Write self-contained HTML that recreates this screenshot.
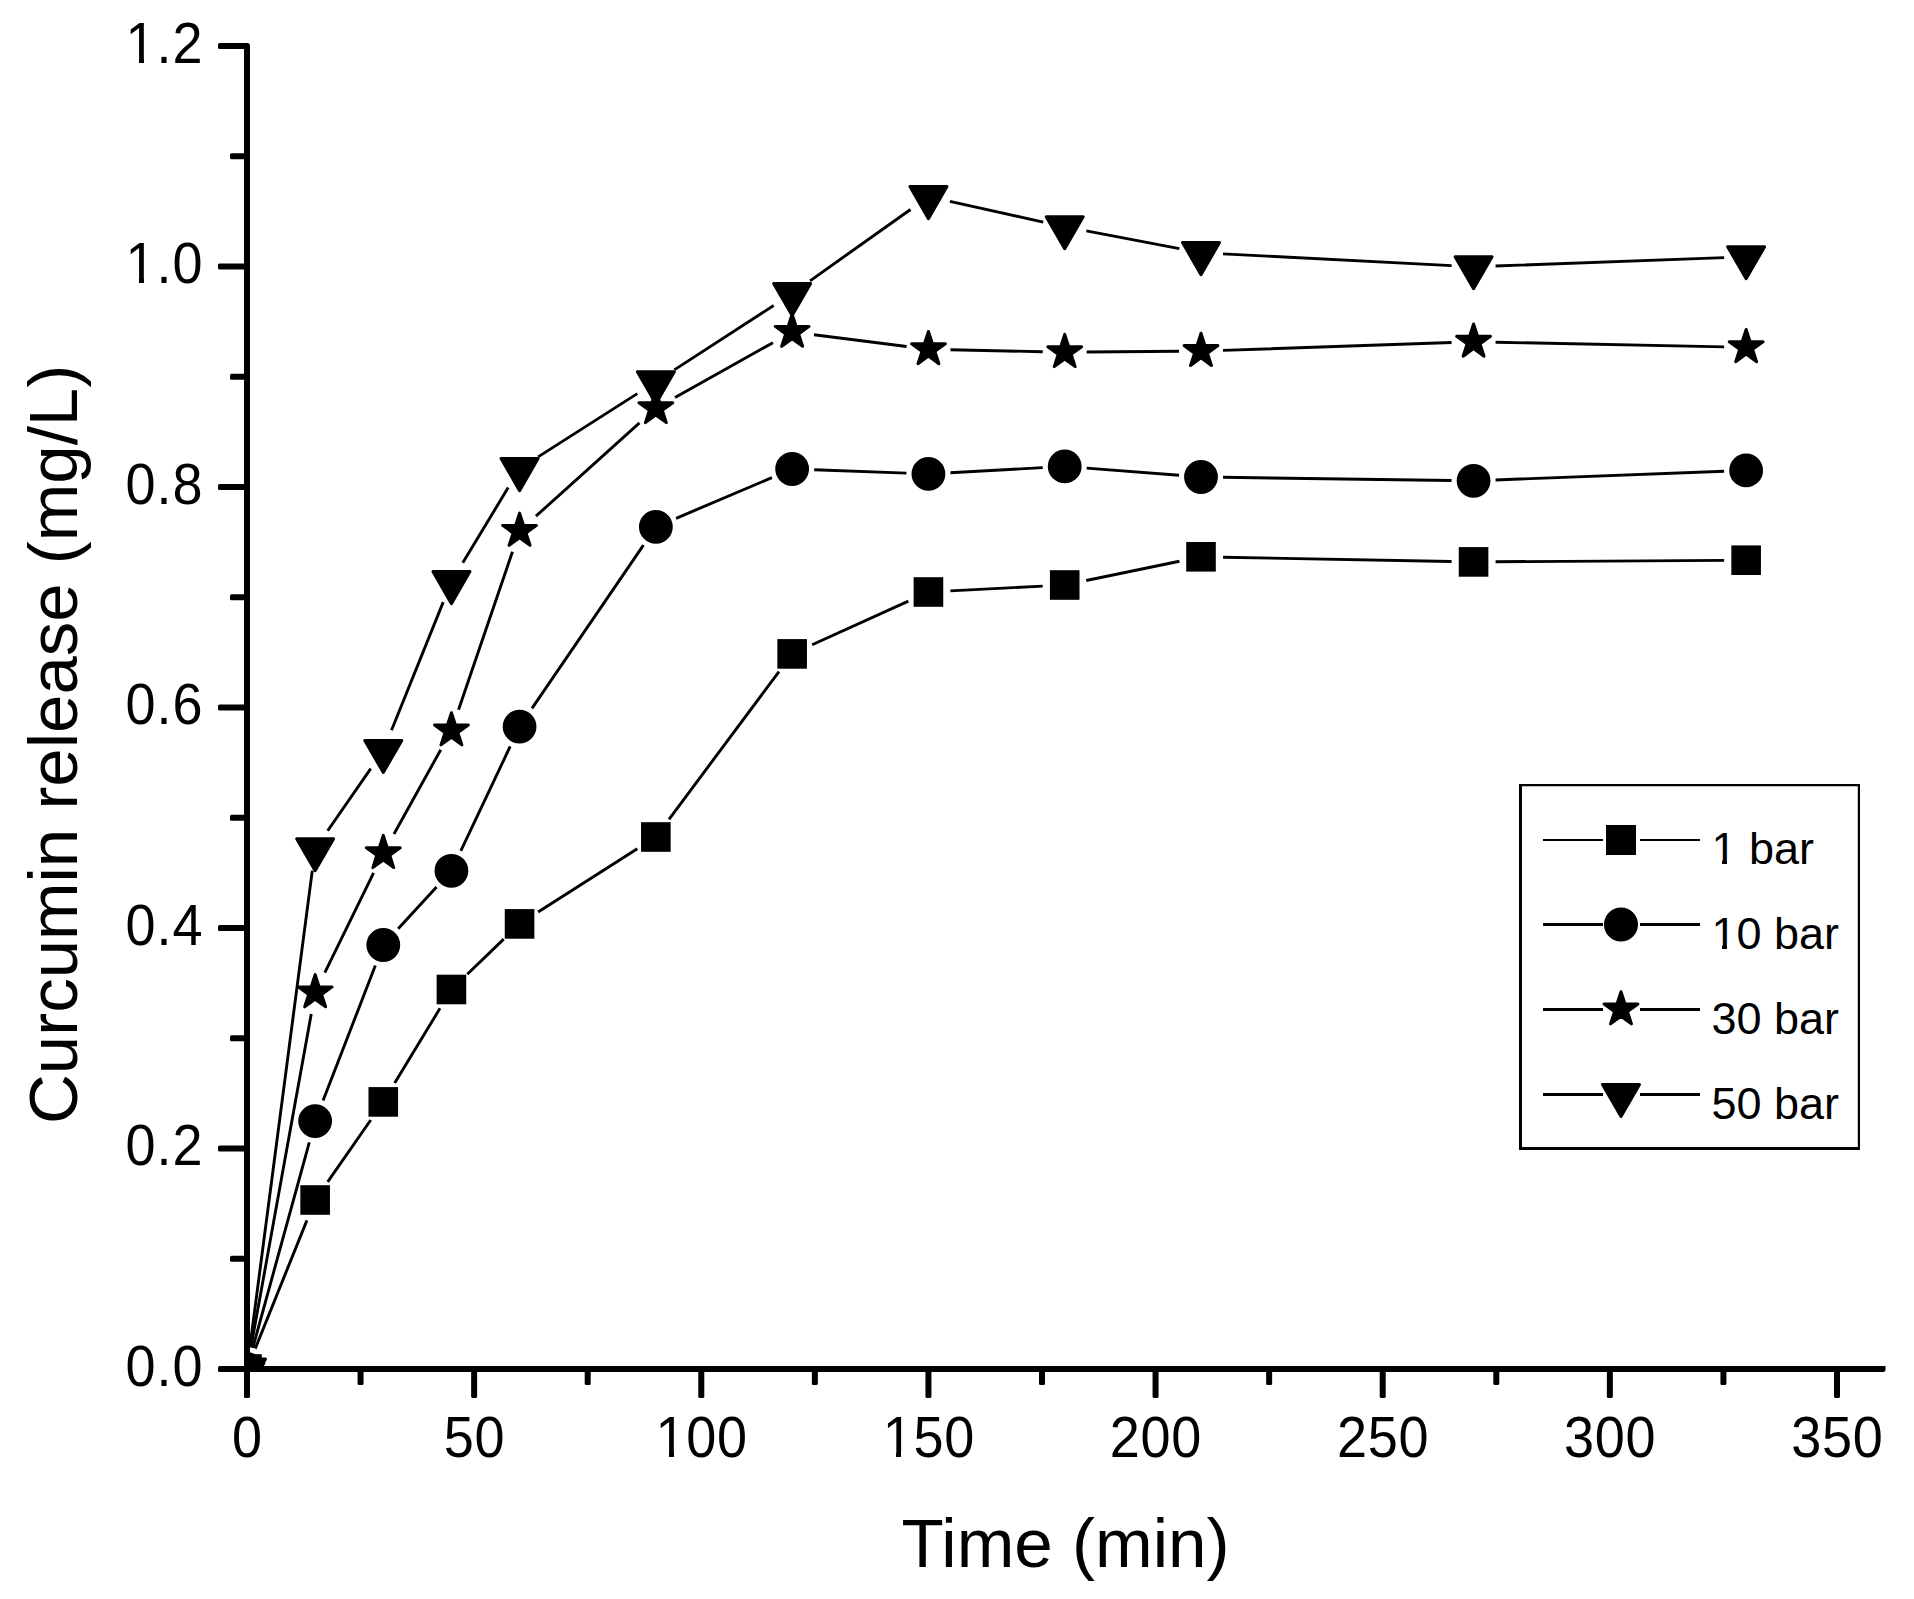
<!DOCTYPE html>
<html lang="en"><head><meta charset="utf-8"><title>Curcumin release</title>
<style>html,body{margin:0;padding:0;background:#fff}body{width:1914px;height:1599px;overflow:hidden}svg{display:block}text{font-family:"Liberation Sans", sans-serif;fill:#000}</style>
</head><body>
<svg width="1914" height="1599" viewBox="0 0 1914 1599">
<rect x="0" y="0" width="1914" height="1599" fill="#fff"/>
<defs><clipPath id="plot"><rect x="247" y="0" width="1700" height="1369"/></clipPath></defs>
<g clip-path="url(#plot)">
<path d="M255.23 1348.60 L306.92 1220.40 M327.69 1181.93 L370.73 1119.97 M394.69 1083.09 L440.02 1008.31 M467.28 974.24 L503.72 939.16 M538.12 912.07 L637.31 848.83 M668.99 819.35 L779.01 671.55 M812.17 644.80 L908.40 601.10 M950.40 590.87 L1042.74 586.13 M1086.26 580.54 L1179.46 561.26 M1223.00 557.21 L1451.58 561.49 M1495.57 561.76 L1724.14 560.34" fill="none" stroke="#000" stroke-width="2.90" stroke-linecap="butt"/>
<g fill="#000" stroke="#000" stroke-width="3.0" stroke-linejoin="round"><rect x="233.70" y="1355.70" width="26.60" height="26.60" stroke-linejoin="miter"/><rect x="301.84" y="1186.70" width="26.60" height="26.60" stroke-linejoin="miter"/><rect x="369.99" y="1088.60" width="26.60" height="26.60" stroke-linejoin="miter"/><rect x="438.13" y="976.20" width="26.60" height="26.60" stroke-linejoin="miter"/><rect x="506.27" y="910.60" width="26.60" height="26.60" stroke-linejoin="miter"/><rect x="642.56" y="823.70" width="26.60" height="26.60" stroke-linejoin="miter"/><rect x="778.84" y="640.60" width="26.60" height="26.60" stroke-linejoin="miter"/><rect x="915.13" y="578.70" width="26.60" height="26.60" stroke-linejoin="miter"/><rect x="1051.41" y="571.70" width="26.60" height="26.60" stroke-linejoin="miter"/><rect x="1187.70" y="543.50" width="26.60" height="26.60" stroke-linejoin="miter"/><rect x="1460.27" y="548.60" width="26.60" height="26.60" stroke-linejoin="miter"/><rect x="1732.84" y="546.90" width="26.60" height="26.60" stroke-linejoin="miter"/></g>
<path d="M252.83 1347.79 L309.31 1142.31 M323.08 1100.58 L375.35 965.52 M398.17 928.80 L436.55 887.00 M460.83 850.91 L510.17 746.49 M531.97 708.43 L643.46 545.07 M676.11 518.30 L771.89 477.60 M814.13 469.79 L906.44 473.11 M950.40 472.69 L1042.75 467.61 M1086.65 468.11 L1179.07 475.29 M1223.00 477.31 L1451.57 480.49 M1495.56 479.96 L1724.16 471.24" fill="none" stroke="#000" stroke-width="2.90" stroke-linecap="butt"/>
<g fill="#000" stroke="#000" stroke-width="3.0" stroke-linejoin="round"><circle cx="247.00" cy="1369.00" r="15.40"/><circle cx="315.14" cy="1121.10" r="15.40"/><circle cx="383.29" cy="945.00" r="15.40"/><circle cx="451.43" cy="870.80" r="15.40"/><circle cx="519.57" cy="726.60" r="15.40"/><circle cx="655.86" cy="526.90" r="15.40"/><circle cx="792.14" cy="469.00" r="15.40"/><circle cx="928.43" cy="473.90" r="15.40"/><circle cx="1064.71" cy="466.40" r="15.40"/><circle cx="1201.00" cy="477.00" r="15.40"/><circle cx="1473.57" cy="480.80" r="15.40"/><circle cx="1746.14" cy="470.40" r="15.40"/></g>
<path d="M250.92 1347.35 L311.23 1014.05 M324.82 972.64 L373.61 872.96 M393.97 833.97 L440.75 749.73 M458.54 709.68 L512.46 551.72 M535.92 516.18 L639.51 422.92 M675.05 397.45 L772.95 342.65 M813.97 334.69 L906.61 346.51 M950.42 349.77 L1042.72 351.73 M1086.71 352.02 L1179.00 351.28 M1222.99 350.35 L1451.58 342.55 M1495.57 342.24 L1724.15 346.86" fill="none" stroke="#000" stroke-width="2.90" stroke-linecap="butt"/>
<g fill="#000" stroke="#000" stroke-width="3.0" stroke-linejoin="round"><polygon points="247.00,1351.20 251.00,1363.50 263.93,1363.50 253.47,1371.10 257.46,1383.40 247.00,1375.80 236.54,1383.40 240.53,1371.10 230.07,1363.50 243.00,1363.50"/><polygon points="315.14,974.60 319.14,986.90 332.07,986.90 321.61,994.50 325.61,1006.80 315.14,999.20 304.68,1006.80 308.68,994.50 298.21,986.90 311.15,986.90"/><polygon points="383.29,835.40 387.28,847.70 400.21,847.70 389.75,855.30 393.75,867.60 383.29,860.00 372.82,867.60 376.82,855.30 366.36,847.70 379.29,847.70"/><polygon points="451.43,712.70 455.43,725.00 468.36,725.00 457.90,732.60 461.89,744.90 451.43,737.30 440.97,744.90 444.96,732.60 434.50,725.00 447.43,725.00"/><polygon points="519.57,513.10 523.57,525.40 536.50,525.40 526.04,533.00 530.03,545.30 519.57,537.70 509.11,545.30 513.10,533.00 502.64,525.40 515.57,525.40"/><polygon points="655.86,390.40 659.85,402.70 672.79,402.70 662.32,410.30 666.32,422.60 655.86,415.00 645.39,422.60 649.39,410.30 638.93,402.70 651.86,402.70"/><polygon points="792.14,314.10 796.14,326.40 809.07,326.40 798.61,334.00 802.61,346.30 792.14,338.70 781.68,346.30 785.68,334.00 775.21,326.40 788.15,326.40"/><polygon points="928.43,331.50 932.43,343.80 945.36,343.80 934.90,351.40 938.89,363.70 928.43,356.10 917.97,363.70 921.96,351.40 911.50,343.80 924.43,343.80"/><polygon points="1064.71,334.40 1068.71,346.70 1081.64,346.70 1071.18,354.30 1075.18,366.60 1064.71,359.00 1054.25,366.60 1058.25,354.30 1047.79,346.70 1060.72,346.70"/><polygon points="1201.00,333.30 1205.00,345.60 1217.93,345.60 1207.47,353.20 1211.46,365.50 1201.00,357.90 1190.54,365.50 1194.53,353.20 1184.07,345.60 1197.00,345.60"/><polygon points="1473.57,324.00 1477.57,336.30 1490.50,336.30 1480.04,343.90 1484.03,356.20 1473.57,348.60 1463.11,356.20 1467.10,343.90 1456.64,336.30 1469.57,336.30"/><polygon points="1746.14,329.50 1750.14,341.80 1763.07,341.80 1752.61,349.40 1756.61,361.70 1746.14,354.10 1735.68,361.70 1739.68,349.40 1729.21,341.80 1742.15,341.80"/></g>
<path d="M249.86 1347.19 L312.29 870.61 M327.69 830.73 L370.74 768.67 M391.52 730.20 L443.20 602.10 M462.79 562.86 L508.21 487.54 M538.12 456.87 L637.31 393.63 M674.33 369.85 L773.67 305.55 M810.07 280.85 L910.50 209.45 M949.91 201.44 L1043.23 222.06 M1086.33 230.91 L1179.39 248.59 M1222.97 253.84 L1451.60 265.66 M1495.56 265.99 L1724.16 257.61" fill="none" stroke="#000" stroke-width="2.90" stroke-linecap="butt"/>
<g fill="#000" stroke="#000" stroke-width="3.0" stroke-linejoin="round"><polygon points="228.50,1358.90 265.50,1358.90 247.00,1390.94"/><polygon points="296.64,838.70 333.64,838.70 315.14,870.74"/><polygon points="364.79,740.50 401.79,740.50 383.29,772.54"/><polygon points="432.93,571.60 469.93,571.60 451.43,603.64"/><polygon points="501.07,458.60 538.07,458.60 519.57,490.64"/><polygon points="637.36,371.70 674.36,371.70 655.86,403.74"/><polygon points="773.64,283.50 810.64,283.50 792.14,315.54"/><polygon points="909.93,186.60 946.93,186.60 928.43,218.64"/><polygon points="1046.21,216.70 1083.21,216.70 1064.71,248.74"/><polygon points="1182.50,242.60 1219.50,242.60 1201.00,274.64"/><polygon points="1455.07,256.70 1492.07,256.70 1473.57,288.74"/><polygon points="1727.64,246.70 1764.64,246.70 1746.14,278.74"/></g>
</g>
<path fill="#000" d="M244 43H248.2L250 44.8V1372H244Z M244 1366H1885.5V1370.6L1884 1372H244Z"/>
<g fill="#000">
<rect x="218.00" y="1366.00" width="30.00" height="6.00" rx="1.6"/>
<rect x="218.00" y="1145.50" width="30.00" height="6.00" rx="1.6"/>
<rect x="218.00" y="925.00" width="30.00" height="6.00" rx="1.6"/>
<rect x="218.00" y="704.50" width="30.00" height="6.00" rx="1.6"/>
<rect x="218.00" y="484.00" width="30.00" height="6.00" rx="1.6"/>
<rect x="218.00" y="263.50" width="30.00" height="6.00" rx="1.6"/>
<rect x="218.00" y="43.00" width="30.00" height="6.00" rx="1.6"/>
<rect x="230.00" y="1255.75" width="18.00" height="6.00" rx="1.6"/>
<rect x="230.00" y="1035.25" width="18.00" height="6.00" rx="1.6"/>
<rect x="230.00" y="814.75" width="18.00" height="6.00" rx="1.6"/>
<rect x="230.00" y="594.25" width="18.00" height="6.00" rx="1.6"/>
<rect x="230.00" y="373.75" width="18.00" height="6.00" rx="1.6"/>
<rect x="230.00" y="153.25" width="18.00" height="6.00" rx="1.6"/>
<rect x="244.00" y="1368.00" width="6.00" height="30.00" rx="1.6"/>
<rect x="471.14" y="1368.00" width="6.00" height="30.00" rx="1.6"/>
<rect x="698.29" y="1368.00" width="6.00" height="30.00" rx="1.6"/>
<rect x="925.43" y="1368.00" width="6.00" height="30.00" rx="1.6"/>
<rect x="1152.57" y="1368.00" width="6.00" height="30.00" rx="1.6"/>
<rect x="1379.71" y="1368.00" width="6.00" height="30.00" rx="1.6"/>
<rect x="1606.86" y="1368.00" width="6.00" height="30.00" rx="1.6"/>
<rect x="1834.00" y="1368.00" width="6.00" height="30.00" rx="1.6"/>
<rect x="357.57" y="1368.00" width="6.00" height="17.00" rx="1.6"/>
<rect x="584.71" y="1368.00" width="6.00" height="17.00" rx="1.6"/>
<rect x="811.86" y="1368.00" width="6.00" height="17.00" rx="1.6"/>
<rect x="1039.00" y="1368.00" width="6.00" height="17.00" rx="1.6"/>
<rect x="1266.14" y="1368.00" width="6.00" height="17.00" rx="1.6"/>
<rect x="1493.29" y="1368.00" width="6.00" height="17.00" rx="1.6"/>
<rect x="1720.43" y="1368.00" width="6.00" height="17.00" rx="1.6"/>
</g>
<g font-size="54" text-anchor="end">
<text transform="translate(203.5 1385.90) scale(1 1.05)" letter-spacing="1">0.0</text>
<text transform="translate(203.5 1165.40) scale(1 1.05)" letter-spacing="1">0.2</text>
<text transform="translate(203.5 944.90) scale(1 1.05)" letter-spacing="1">0.4</text>
<text transform="translate(203.5 724.40) scale(1 1.05)" letter-spacing="1">0.6</text>
<text transform="translate(203.5 503.90) scale(1 1.05)" letter-spacing="1">0.8</text>
<text transform="translate(203.5 283.40) scale(1 1.05)" letter-spacing="1">1.0</text>
<text transform="translate(203.5 62.90) scale(1 1.05)" letter-spacing="1">1.2</text>
</g>
<g font-size="54" text-anchor="middle">
<text transform="translate(247.35 1456.6) scale(1 1.05)" letter-spacing="0.7">0</text>
<text transform="translate(474.49 1456.6) scale(1 1.05)" letter-spacing="0.7">50</text>
<text transform="translate(701.64 1456.6) scale(1 1.05)" letter-spacing="0.7">100</text>
<text transform="translate(928.78 1456.6) scale(1 1.05)" letter-spacing="0.7">150</text>
<text transform="translate(1155.92 1456.6) scale(1 1.05)" letter-spacing="0.7">200</text>
<text transform="translate(1383.06 1456.6) scale(1 1.05)" letter-spacing="0.7">250</text>
<text transform="translate(1610.21 1456.6) scale(1 1.05)" letter-spacing="0.7">300</text>
<text transform="translate(1837.35 1456.6) scale(1 1.05)" letter-spacing="0.7">350</text>
</g>
<text x="1065.6" y="1566.8" font-size="69.2" text-anchor="middle">Time (min)</text>
<text transform="translate(77 744.4) rotate(-90)" font-size="69" text-anchor="middle">Curcumin release (mg/L)</text>
<path fill="#000" d="M1519 784H1860V1150H1519Z M1522 786.2V1147H1857.8V786.2Z" fill-rule="evenodd"/>
<path d="M1543 840.0 L1603 840.0 M1640 840.0 L1700 840.0" stroke="#000" stroke-width="2.2" fill="none"/>
<g fill="#000" stroke="#000" stroke-width="3.0" stroke-linejoin="round"><rect x="1607.50" y="826.50" width="27.00" height="27.00" stroke-linejoin="miter"/></g>
<text x="1711.5" y="864.0" font-size="45">1 bar</text>
<path d="M1543 924.5 L1603 924.5 M1640 924.5 L1700 924.5" stroke="#000" stroke-width="3.0" fill="none"/>
<g fill="#000" stroke="#000" stroke-width="3.0" stroke-linejoin="round"><circle cx="1621.00" cy="924.50" r="15.50"/></g>
<text x="1711.5" y="948.5" font-size="45">10 bar</text>
<path d="M1543 1009.5 L1603 1009.5 M1640 1009.5 L1700 1009.5" stroke="#000" stroke-width="3.0" fill="none"/>
<g fill="#000" stroke="#000" stroke-width="3.0" stroke-linejoin="round"><polygon points="1621.00,991.70 1625.00,1004.00 1637.93,1004.00 1627.47,1011.60 1631.46,1023.90 1621.00,1016.30 1610.54,1023.90 1614.53,1011.60 1604.07,1004.00 1617.00,1004.00"/></g>
<text x="1711.5" y="1033.5" font-size="45">30 bar</text>
<path d="M1543 1094.5 L1603 1094.5 M1640 1094.5 L1700 1094.5" stroke="#000" stroke-width="3.0" fill="none"/>
<g fill="#000" stroke="#000" stroke-width="3.0" stroke-linejoin="round"><polygon points="1602.50,1084.40 1639.50,1084.40 1621.00,1116.44"/></g>
<text x="1711.5" y="1118.5" font-size="45">50 bar</text>
<g fill="#fff"><rect x="128.0" y="57.5" width="11.0" height="6.5"/><rect x="144.0" y="57.5" width="10.0" height="6.5"/><rect x="128.0" y="277.5" width="11.0" height="6.5"/><rect x="144.0" y="277.5" width="10.0" height="6.5"/><rect x="658.0" y="1451.5" width="11.0" height="6.5"/><rect x="674.0" y="1451.5" width="10.0" height="6.5"/><rect x="885.0" y="1451.5" width="11.0" height="6.5"/><rect x="901.0" y="1451.5" width="11.0" height="6.5"/><rect x="1714.0" y="859.5" width="8.0" height="5.5"/><rect x="1727.0" y="859.5" width="9.0" height="5.5"/><rect x="1714.0" y="944.5" width="8.0" height="5.5"/><rect x="1727.0" y="944.5" width="9.0" height="5.5"/></g>
</svg></body></html>
